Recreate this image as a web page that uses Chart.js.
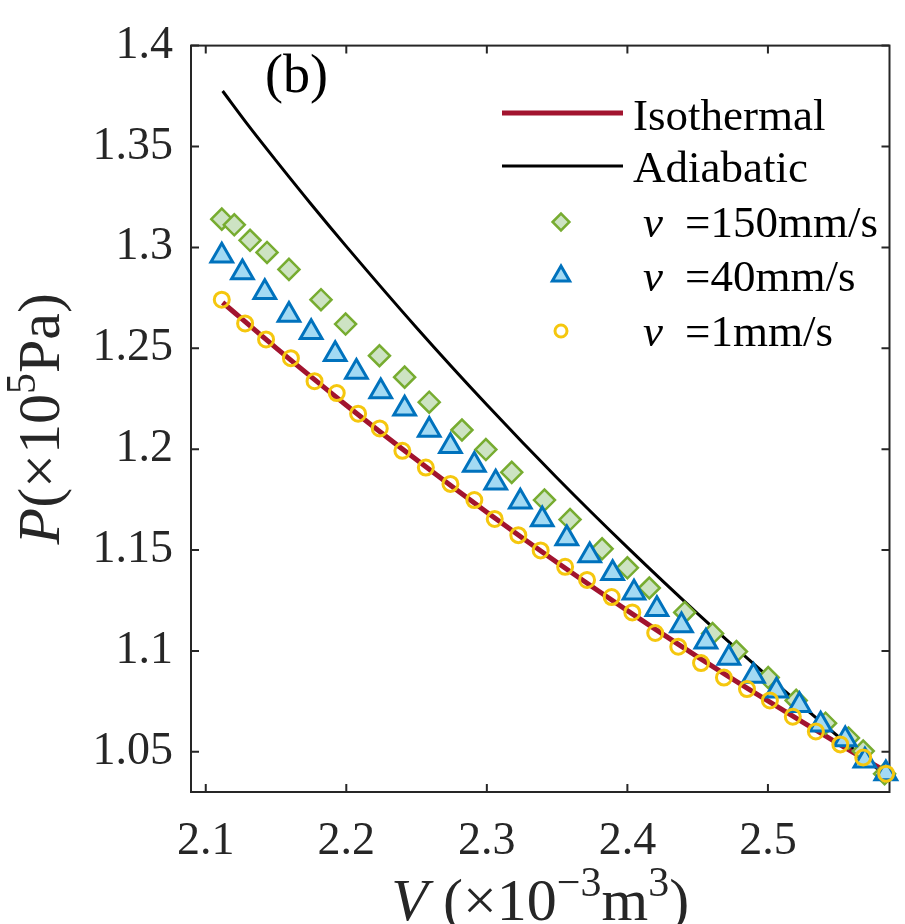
<!DOCTYPE html>
<html>
<head>
<meta charset="utf-8">
<title>P-V curves</title>
<script src="https://cdn.jsdelivr.net/npm/chart.js@4.4.0/dist/chart.umd.min.js"></script>
<style>
  html, body { margin: 0; padding: 0; background: #fff; }
  #pv { display: block; }
</style>
</head>
<body>
<canvas id="pv" width="905" height="924"></canvas>
<script>
// V in 1e-3 m^3, P in 1e5 Pa
const vIso = [2.112, 2.15, 2.2, 2.25, 2.3, 2.35, 2.4, 2.45, 2.5, 2.55, 2.587]
const pIso = [1.2727, 1.2502, 1.2218, 1.1947, 1.1687, 1.1438, 1.1200, 1.0971, 1.0752, 1.0541, 1.0391]

const vAdi = [2.112, 2.13, 2.15, 2.175, 2.2, 2.25, 2.3, 2.35, 2.4, 2.45, 2.5, 2.55, 2.587]
const pAdi = [1.3775, 1.3607, 1.3430, 1.3214, 1.3005, 1.2602, 1.2220, 1.1857, 1.1513, 1.1185, 1.0874, 1.0576, 1.0365]

// measured points, piston speed 150 mm/s
const v150 = [2.1114, 2.1203, 2.1315, 2.1436, 2.1592, 2.1820, 2.1995, 2.2236, 2.2415, 2.2590, 2.2823, 2.2993, 2.3177, 2.3410,
    2.3592, 2.3820, 2.4000, 2.4156, 2.4408, 2.4606, 2.4776, 2.5002, 2.5201, 2.5410, 2.5573, 2.5678, 2.5830]
const p150 = [1.3140, 1.3112, 1.3035, 1.2975, 1.2891, 1.2741, 1.2620, 1.2463, 1.2357, 1.2233, 1.2095, 1.1998, 1.1885, 1.1748,
    1.1651, 1.1506, 1.1412, 1.1312, 1.1191, 1.1086, 1.0997, 1.0868, 1.0755, 1.0642, 1.0569, 1.0504, 1.0391]

// 40 mm/s
const v40 = [2.1114, 2.1261, 2.1420, 2.1592, 2.1750, 2.1921, 2.2072, 2.2245, 2.2415, 2.2590, 2.2741, 2.2911, 2.3063, 2.3238, 2.3394,
    2.3569, 2.3732, 2.3895, 2.4047, 2.4210, 2.4385, 2.4559, 2.4722, 2.4897, 2.5061, 2.5224, 2.5375, 2.5550, 2.5690, 2.5839]
const p40 = [1.2959, 1.2875, 1.2778, 1.2665, 1.2579, 1.2470, 1.2383, 1.2286, 1.2200, 1.2095, 1.2015, 1.1922, 1.1833, 1.1740, 1.1651,
    1.1557, 1.1473, 1.1385, 1.1288, 1.1207, 1.1126, 1.1046, 1.0965, 1.0876, 1.0803, 1.0731, 1.0634, 1.0561, 1.0456, 1.0393]

// 1 mm/s
const v1 = [2.1114, 2.1280, 2.1429, 2.1606, 2.1774, 2.1932, 2.2084, 2.2238, 2.2399, 2.2566, 2.2741, 2.2911, 2.3056, 2.3224, 2.3383,
    2.3557, 2.3713, 2.3888, 2.4035, 2.4198, 2.4362, 2.4524, 2.4687, 2.4851, 2.5014, 2.5177, 2.5341, 2.5515, 2.5678, 2.5841]
const p1 = [1.2741, 1.2623, 1.2544, 1.2451, 1.2337, 1.2278, 1.2176, 1.2103, 1.1992, 1.1909, 1.1828, 1.1748, 1.1654, 1.1574, 1.1498,
    1.1417, 1.1352, 1.1267, 1.1191, 1.1089, 1.1021, 1.0940, 1.0868, 1.0811, 1.0755, 1.0674, 1.0601, 1.0537, 1.0472, 1.0392]

const xTicks = [2.1, 2.2, 2.3, 2.4, 2.5]
const xTickLabels = ['2.1', '2.2', '2.3', '2.4', '2.5']
const yTicks = [1.05, 1.1, 1.15, 1.2, 1.25, 1.3, 1.35, 1.4]
const yTickLabels = ['1.05', '1.1', '1.15', '1.2', '1.25', '1.3', '1.35', '1.4']

const FONT = "'Liberation Serif', 'Times New Roman', serif"
const AXIS = '#262626'

const pts = (xs, ys) => xs.map((x, i) => ({ x: x, y: ys[i] }))

const markers = {
    v150: { pointStyle: 'rectRot', radius: 10.5, borderColor: '#77AC30', backgroundColor: '#CDE3C3', borderWidth: 2.5 },
    v40: { pointStyle: 'triangle', radius: 12.5, borderColor: '#0072BD', backgroundColor: '#A3DAF3', borderWidth: 3 },
    v1: { pointStyle: 'circle', radius: 7.5, borderColor: '#F5C70E', backgroundColor: 'rgba(255,255,255,0)', borderWidth: 3 }
}

const markerSet = (data, m) => ({
    data: data,
    showLine: false,
    clip: false,
    pointStyle: m.pointStyle,
    pointRadius: m.radius,
    pointBorderColor: m.borderColor,
    pointBackgroundColor: m.backgroundColor,
    pointBorderWidth: m.borderWidth
})

// box with inward ticks, drawn under the data
const frame = {
    id: 'frame',
    beforeDatasetsDraw(chart) {
        const { ctx, chartArea: a, scales: { x, y } } = chart
        ctx.save()
        ctx.strokeStyle = AXIS
        ctx.lineWidth = 2
        ctx.strokeRect(a.left, a.top, a.right - a.left, a.bottom - a.top)
        ctx.beginPath()
        xTicks.forEach(v => {
            const px = x.getPixelForValue(v)
            ctx.moveTo(px, a.bottom); ctx.lineTo(px, a.bottom - 8)
            ctx.moveTo(px, a.top); ctx.lineTo(px, a.top + 8)
        })
        yTicks.forEach(v => {
            const py = y.getPixelForValue(v)
            ctx.moveTo(a.left, py); ctx.lineTo(a.left + 8, py)
            ctx.moveTo(a.right, py); ctx.lineTo(a.right - 8, py)
        })
        ctx.stroke()
        ctx.restore()
    }
}

// text runs with italic letters and superscripts
function drawRich(ctx, parts, cx, baseY, size) {
    const fontOf = p => (p.italic ? 'italic ' : '') + (p.sup ? Math.round(size * 0.7) : size) + 'px ' + FONT
    let total = 0
    parts.forEach(p => { ctx.font = fontOf(p); p.w = ctx.measureText(p.t).width; total += p.w })
    let x = cx - total / 2
    ctx.textAlign = 'left'
    ctx.textBaseline = 'alphabetic'
    parts.forEach(p => {
        ctx.font = fontOf(p)
        ctx.fillText(p.t, x, p.sup ? baseY - size * 0.4 : baseY)
        x += p.w
    })
}

const labels = {
    id: 'labels',
    afterDraw(chart) {
        const { ctx, chartArea: a } = chart
        ctx.save()
        ctx.fillStyle = AXIS
        drawRich(ctx, [{ t: 'V', italic: true }, { t: ' (×10' }, { t: '−3', sup: true }, { t: 'm' }, { t: '3', sup: true }, { t: ')' }],
            (a.left + a.right) / 2, 920, 60)
        ctx.save()
        ctx.translate(59, (a.top + a.bottom) / 2)
        ctx.rotate(-Math.PI / 2)
        drawRich(ctx, [{ t: 'P', italic: true }, { t: '(×10' }, { t: '5', sup: true }, { t: 'Pa)' }], 0, 0, 60)
        ctx.restore()

        ctx.fillStyle = '#000'
        ctx.font = '54px ' + FONT
        ctx.textAlign = 'left'
        ctx.textBaseline = 'alphabetic'
        ctx.fillText('(b)', 265, 92)

        // legend
        ctx.lineCap = 'butt'
        ctx.strokeStyle = '#A2142F'; ctx.lineWidth = 5
        ctx.beginPath(); ctx.moveTo(502, 113); ctx.lineTo(623, 113); ctx.stroke()
        ctx.strokeStyle = '#000'; ctx.lineWidth = 3
        ctx.beginPath(); ctx.moveTo(502, 166); ctx.lineTo(623, 166); ctx.stroke()
        ctx.font = '45px ' + FONT
        ctx.fillText('Isothermal', 633, 130)
        ctx.fillText('Adiabatic', 633, 182)

        const rows = [['v150', '=150mm/s', 237], ['v40', '=40mm/s', 291], ['v1', '=1mm/s', 346]]
        rows.forEach(([key, text, base]) => {
            const m = markers[key]
            ctx.fillStyle = m.backgroundColor
            ctx.strokeStyle = m.borderColor
            ctx.lineWidth = m.borderWidth
            Chart.helpers.drawPoint(ctx, { pointStyle: m.pointStyle, radius: m.radius * 0.8, rotation: 0, borderWidth: m.borderWidth }, 561, base - 15)
            ctx.fillStyle = '#000'
            ctx.font = 'italic 45px ' + FONT
            ctx.fillText('v', 643, base)
            ctx.font = '45px ' + FONT
            ctx.fillText(text, 685, base)
        })
        ctx.restore()
    }
}

new Chart(document.getElementById('pv'), {
    type: 'scatter',
    data: {
        datasets: [
            markerSet(pts(v1, p1), markers.v1),
            markerSet(pts(v40, p40), markers.v40),
            markerSet(pts(v150, p150), markers.v150),
            {
                data: pts(vIso, pIso),
                showLine: true,
                pointRadius: 0,
                borderColor: '#A2142F',
                borderWidth: 5,
                cubicInterpolationMode: 'monotone'
            },
            {
                data: pts(vAdi, pAdi),
                showLine: true,
                pointRadius: 0,
                borderColor: '#000000',
                borderWidth: 3,
                cubicInterpolationMode: 'monotone'
            }
        ]
    },
    options: {
        responsive: false,
        animation: false,
        devicePixelRatio: 1,
        events: [],
        layout: { padding: { top: 28, right: 4, left: 0, bottom: 0 } },
        plugins: { legend: { display: false }, tooltip: { enabled: false } },
        scales: {
            x: {
                type: 'linear',
                min: 2.0895,
                max: 2.5865,
                afterBuildTicks: s => { s.ticks = xTicks.map(v => ({ value: v })) },
                afterFit: s => { s.height = 132 },
                grid: { display: false, drawTicks: false },
                border: { display: false },
                ticks: {
                    autoSkip: false,
                    maxRotation: 0,
                    padding: 22,
                    color: AXIS,
                    font: { family: FONT, size: 46 },
                    callback: (v, i) => xTickLabels[i]
                }
            },
            y: {
                type: 'linear',
                min: 1.0301,
                max: 1.4,
                afterBuildTicks: s => { s.ticks = yTicks.map(v => ({ value: v })) },
                afterFit: s => { s.width = 191 },
                grid: { display: false, drawTicks: false },
                border: { display: false },
                ticks: {
                    autoSkip: false,
                    padding: 18,
                    color: AXIS,
                    font: { family: FONT, size: 46 },
                    callback: (v, i) => yTickLabels[i]
                }
            }
        }
    },
    plugins: [frame, labels]
})
</script>
</body>
</html>
